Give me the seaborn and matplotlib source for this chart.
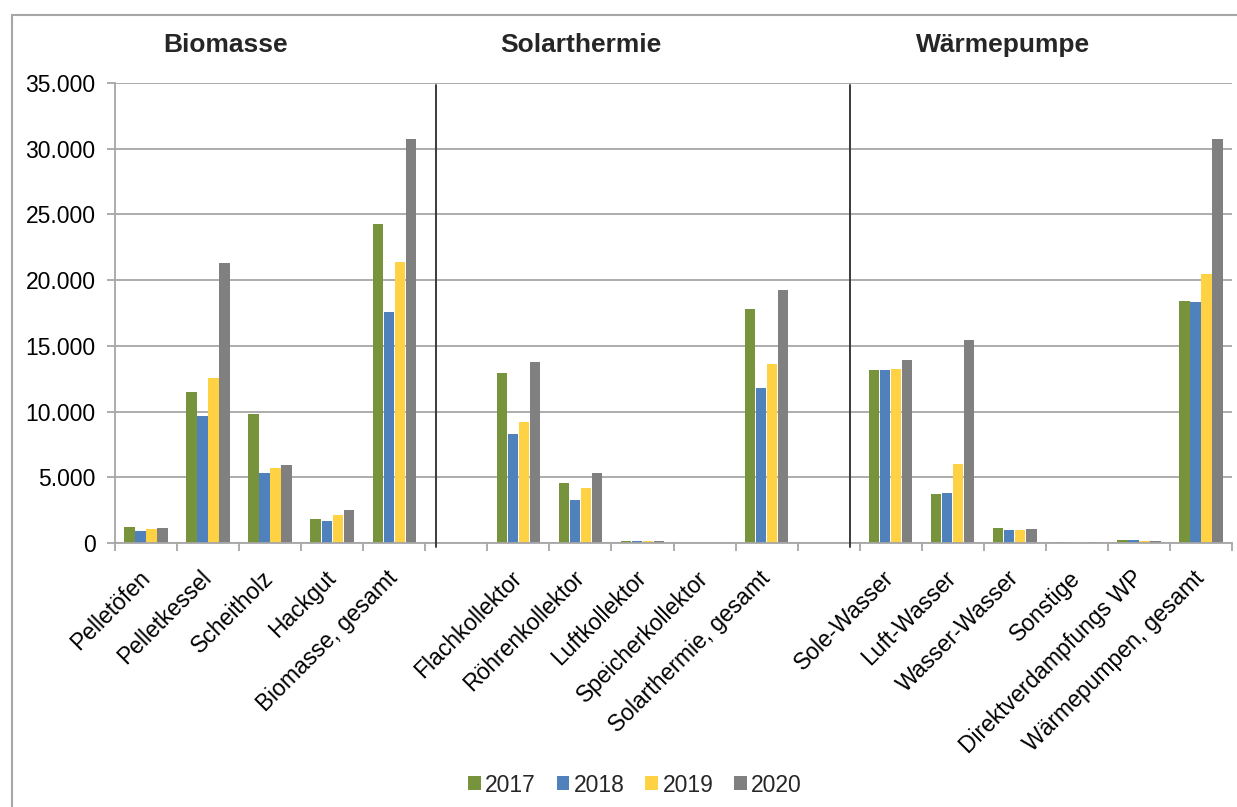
import matplotlib
matplotlib.use("Agg")
import matplotlib.pyplot as plt
import matplotlib.ticker as mticker
import matplotlib.transforms as mtransforms
from matplotlib.patches import Patch, Rectangle
import numpy as np
import pandas as pd
import seaborn as sns

# Categories (blank entries leave an empty slot between the groups)
categories = [
    "Pelletöfen", "Pelletkessel", "Scheitholz", "Hackgut", "Biomasse, gesamt",
    " ",
    "Flachkollektor", "Röhrenkollektor", "Luftkollektor", "Speicherkollektor",
    "Solarthermie, gesamt",
    "  ",
    "Sole-Wasser", "Luft-Wasser", "Wasser-Wasser", "Sonstige",
    "Direktverdampfungs WP", "Wärmepumpen, gesamt",
]
years = ["2017", "2018", "2019", "2020"]

v2017 = [1200, 11500, 9800, 1800, 24250, None, 12950, 4600, 190, 0, 17800, None,
         13200, 3700, 1120, 70, 230, 18400]
v2018 = [930, 9700, 5350, 1670, 17550, None, 8320, 3300, 150, 0, 11800, None,
         13150, 3830, 1020, 0, 230, 18300]
v2019 = [1060, 12550, 5700, 2120, 21380, None, 9230, 4190, 160, 0, 13600, None,
         13250, 6020, 1020, 0, 160, 20500]
v2020 = [1170, 21300, 5900, 2500, 30760, None, 13780, 5300, 140, 0, 19220, None,
         13960, 15450, 1070, 60, 190, 30750]

group_titles = ["Biomasse", "Solarthermie", "Wärmepumpe"]
colors = ["#77933C", "#4F81BD", "#FFD243", "#808080"]

rows = []
for year, vals in zip(years, [v2017, v2018, v2019, v2020]):
    for cat, v in zip(categories, vals):
        if v is not None:
            rows.append({"Kategorie": cat, "Jahr": year, "Wert": v})
df = pd.DataFrame(rows)

sns.set_theme(style="white")
plt.rcParams["font.family"] = ["Liberation Sans", "DejaVu Sans"]

W, H = 1237, 807
fig = plt.figure(figsize=(W / 100, H / 100), dpi=100)
ax = fig.add_axes([115 / W, 1 - 543 / H, (1232 - 115) / W, (543 - 83) / H])

sns.barplot(
    data=df, x="Kategorie", y="Wert", hue="Jahr", order=categories,
    hue_order=years, palette=colors, width=0.71, gap=0.06, linewidth=0,
    ax=ax, legend=False, saturation=1,
)

grid_c = "#A6A6A6"
ax.set_ylim(0, 35000)
ax.set_xlim(-0.5, len(categories) - 0.5)
ax.yaxis.set_major_locator(mticker.MultipleLocator(5000))
ax.yaxis.set_major_formatter(
    mticker.FuncFormatter(lambda v, p: f"{int(v):,}".replace(",", "."))
)
ax.grid(axis="y", color=grid_c, linewidth=1.3, zorder=0)
ax.set_axisbelow(True)
for s in ["top", "right"]:
    ax.spines[s].set_visible(False)
ax.spines["left"].set_color(grid_c)
ax.spines["left"].set_linewidth(1.3)
ax.spines["bottom"].set_color(grid_c)
ax.spines["bottom"].set_linewidth(1.3)

ax.tick_params(axis="y", which="major", length=6, width=1.3, color=grid_c,
               labelsize=16.5, pad=8, left=True, labelcolor="black")
ax.set_xticks(range(len(categories)))
ax.set_xticklabels(categories, rotation=45, ha="right", rotation_mode="anchor",
                   fontsize=16.5)
ax.tick_params(axis="x", which="major", length=0, pad=14, labelcolor="black")
ax.set_xticks(np.arange(-0.5, len(categories), 1.0), minor=True)
ax.tick_params(axis="x", which="minor", length=6, width=1.3, color=grid_c,
               bottom=True)
ax.set_xlabel("")
ax.set_ylabel("")

# Nudge the rotated category labels slightly left and down
shift = mtransforms.ScaledTranslation(-8 / 100, -4 / 100, fig.dpi_scale_trans)
for lbl in ax.get_xticklabels():
    lbl.set_transform(lbl.get_transform() + shift)

# Separators between the three groups
for xpx in (436, 850):
    xd = (xpx - 115) / ((1232 - 115) / len(categories)) - 0.5
    ax.plot([xd, xd], [-300, 34850], color="#3A3A3A", linewidth=1.4,
            clip_on=False, zorder=5)

# Group titles
for title, xpx in zip(group_titles, (226, 581, 1003)):
    fig.text(xpx / W, 1 - 45 / H, title, ha="center", va="center",
             fontsize=19, fontweight="bold")

# Legend
handles = [Patch(facecolor=c, edgecolor="none") for c in colors]
fig.legend(handles, years, loc="center", bbox_to_anchor=(635 / W, 1 - 785 / H),
           ncol=4, frameon=False, fontsize=16.5, handlelength=0.55,
           handleheight=0.55, handletextpad=0.2, columnspacing=0.9)

# Outer chart frame
fig.patches.append(Rectangle((12 / W, -0.05), 1.2, 1 - 15 / H + 0.05,
                             transform=fig.transFigure, fill=False,
                             edgecolor="#A6A6A6", linewidth=1.5))

fig.savefig("out.png", dpi=100)
